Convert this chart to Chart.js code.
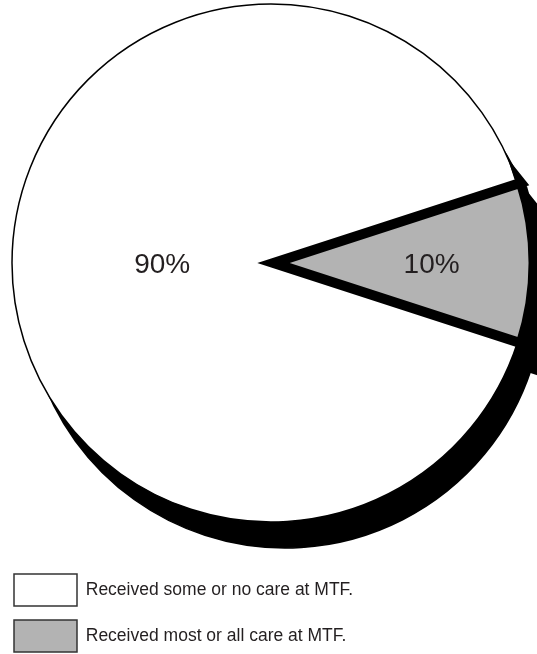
<!DOCTYPE html>
<html>
<head>
<meta charset="utf-8">
<script src="https://cdn.jsdelivr.net/npm/chart.js@4/dist/chart.umd.min.js"></script>
<style>
  html, body { margin: 0; padding: 0; background: #fff; overflow: hidden; }
  #wrap { position: relative; width: 542px; height: 662px; }
</style>
</head>
<body>
<div id="wrap"><canvas id="care-chart"></canvas></div>
<script>
var categories = [
  'Received some or no care at MTF.',
  'Received most or all care at MTF.'
];
var shares = [90, 10];

// black copy of the pie, pushed down and to the right, drawn under the slices
var dropShadow = {
  id: 'dropShadow',
  beforeDatasetsDraw: function(chart, args, opts) {
    var ctx = chart.ctx;
    ctx.save();
    ctx.translate(opts.x, opts.y);
    chart.getDatasetMeta(0).data.forEach(function(arc) {
      var own = arc.options;
      arc.options = Object.assign({}, own, { backgroundColor: opts.color, borderColor: opts.color });
      arc.draw(ctx);
      arc.options = own;
    });
    ctx.restore();
  }
};

// percentage written inside each slice
var sliceLabels = {
  id: 'sliceLabels',
  afterDatasetsDraw: function(chart, args, opts) {
    var ctx = chart.ctx;
    var values = chart.data.datasets[0].data;
    ctx.save();
    ctx.font = opts.font;
    ctx.fillStyle = opts.color;
    ctx.textAlign = 'center';
    ctx.textBaseline = 'middle';
    chart.getDatasetMeta(0).data.forEach(function(arc, i) {
      var mid = (arc.startAngle + arc.endAngle) / 2;
      var r = arc.outerRadius * opts.radius[i];
      ctx.fillText(values[i] + '%', arc.x + Math.cos(mid) * r, arc.y + Math.sin(mid) * r + opts.dy);
    });
    ctx.restore();
  }
};

var ctx = document.getElementById('care-chart');
var careChart = new Chart(ctx, {
  type: 'pie',
  data: {
    labels: categories,
    datasets: [{
      data: shares,
      backgroundColor: ['#ffffff', '#b3b3b3'],
      borderColor: ['#000000', '#000000'],
      borderWidth: [1.5, 10],
      borderJoinStyle: 'miter',
      offset: [0, 10]
    }]
  },
  options: {
    responsive: true,
    maintainAspectRatio: false,
    animation: false,
    events: [],
    rotation: 108,
    radius: 259,
    plugins: {
      tooltip: { enabled: false },
      legend: {
        position: 'bottom',
        align: 'start',
        // empty title only adds room between the pie and the legend rows
        title: { display: true, text: '', padding: 0, font: { size: 34, lineHeight: 1 } },
        labels: {
          boxWidth: 63,
          boxHeight: 32,
          padding: 14,
          color: '#231f20',
          font: { family: '"Liberation Sans", Arial, sans-serif', size: 17.5 },
          generateLabels: function(chart) {
            var bg = chart.data.datasets[0].backgroundColor;
            return chart.data.labels.map(function(text, i) {
              return {
                text: text,
                fillStyle: bg[i],
                strokeStyle: '#333333',
                lineWidth: 1.5,
                fontColor: '#231f20',
                hidden: false,
                index: i
              };
            });
          }
        }
      },
      dropShadow: { x: 14, y: 26, color: '#000000' },
      sliceLabels: {
        radius: [0.42, 0.62],
        dy: 2,
        font: '28px "Liberation Sans", Arial, sans-serif',
        color: '#231f20'
      }
    }
  },
  plugins: [dropShadow, sliceLabels]
});
</script>
</body>
</html>
